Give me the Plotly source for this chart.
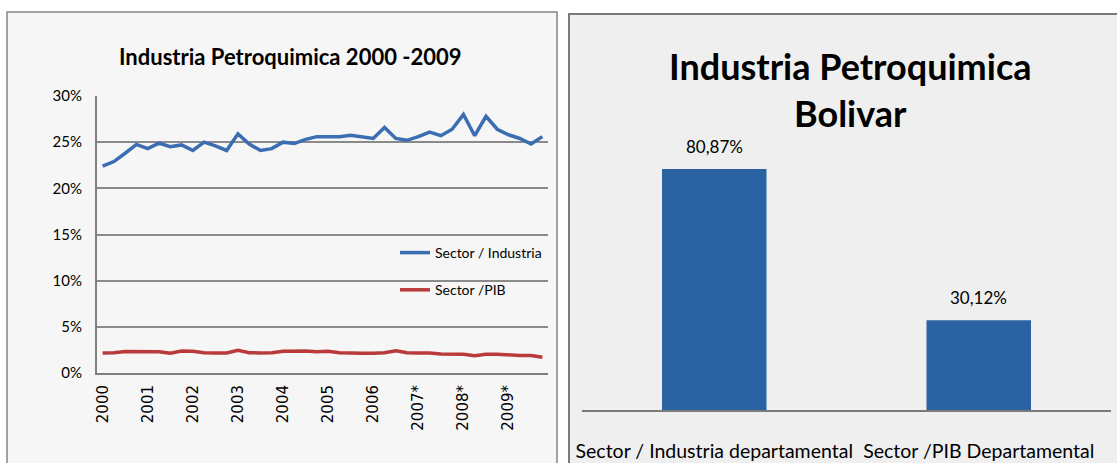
import plotly.graph_objects as go

# ---- data ----
quarters = list(range(40))
year_labels = ["2000", "2001", "2002", "2003", "2004", "2005", "2006", "2007*", "2008*", "2009*"]

sector_industria = [
    22.4, 22.9, 23.8, 24.75, 24.3, 24.9, 24.5, 24.7, 24.1, 25.0,
    24.6, 24.1, 25.9, 24.8, 24.1, 24.3, 25.0, 24.85, 25.3, 25.6,
    25.6, 25.6, 25.75, 25.6, 25.4, 26.6, 25.4, 25.2, 25.6, 26.1,
    25.7, 26.4, 28.0, 25.7, 27.8, 26.4, 25.8, 25.4, 24.8, 25.6,
]
sector_pib = [
    2.17, 2.2, 2.33, 2.35, 2.35, 2.3, 2.13, 2.38, 2.35, 2.2,
    2.17, 2.17, 2.45, 2.2, 2.17, 2.2, 2.35, 2.38, 2.38, 2.3,
    2.35, 2.2, 2.13, 2.13, 2.13, 2.2, 2.4, 2.2, 2.17, 2.17,
    2.05, 2.03, 2.03, 1.88, 2.03, 2.03, 1.92, 1.9, 1.9, 1.7,
]

bolivar_cats = ["Sector / Industria departamental", "Sector /PIB Departamental"]
bolivar_vals = [80.87, 30.12]

W, H = 1117, 463
FONT = "Lato"

def px_x(p):
    return p / W

def px_y(p):
    return 1 - p / H

fig = go.Figure()

# left: line chart
fig.add_trace(go.Scatter(
    x=quarters, y=sector_industria, mode="lines", name="Sector / Industria",
    line=dict(color="#3b6db3", width=3.5), legendgroup="a",
    xaxis="x", yaxis="y"
))
fig.add_trace(go.Scatter(
    x=quarters, y=sector_pib, mode="lines", name="Sector /PIB",
    line=dict(color="#b93a3a", width=3.5), legendgroup="b",
    xaxis="x", yaxis="y"
))

# right: bar chart
fig.add_trace(go.Bar(
    x=bolivar_cats, y=bolivar_vals, marker=dict(color="#2a62a4", line=dict(width=0)),
    width=0.395, showlegend=False, xaxis="x2", yaxis="y2"
))

# panel backgrounds
fig.add_shape(type="rect", xref="paper", yref="paper",
              x0=px_x(7), x1=px_x(557), y0=px_y(470), y1=px_y(12),
              fillcolor="#f6f6f6", line=dict(color="#858585", width=1.5), layer="below")
fig.add_shape(type="rect", xref="paper", yref="paper",
              x0=px_x(569), x1=px_x(1125), y0=px_y(470), y1=px_y(14),
              fillcolor="#efefef", line=dict(color="#7a7a7a", width=2), layer="below")

annotations = [
    dict(text="<b>Industria Petroquimica 2000 -2009</b>", xref="paper", yref="paper",
         x=px_x(290), y=px_y(57), xanchor="center", yanchor="middle", showarrow=False,
         font=dict(family=FONT, size=22, color="#000000")),
    dict(text="<b>Industria Petroquimica<br>Bolivar</b>", xref="paper", yref="paper",
         x=px_x(850), y=px_y(89), xanchor="center", yanchor="middle", showarrow=False,
         font=dict(family=FONT, size=36, color="#000000")),
]
for c, v in zip(bolivar_cats, bolivar_vals):
    annotations.append(dict(
        text=f"{v:.2f}%".replace(".", ","), x=c, y=v, xref="x2", yref="y2",
        xanchor="center", yanchor="bottom", yshift=10, showarrow=False,
        font=dict(family=FONT, size=17, color="#000000")))

fig.update_layout(
    width=W, height=H,
    margin=dict(l=0, r=0, t=0, b=0),
    paper_bgcolor="white",
    plot_bgcolor="rgba(0,0,0,0)",
    showlegend=True,
    legend=dict(x=px_x(395), y=px_y(237), xanchor="left", yanchor="top",
                bgcolor="rgba(0,0,0,0)", font=dict(family=FONT, size=14, color="#000000"),
                tracegroupgap=16, itemwidth=30),
    annotations=annotations,
    xaxis=dict(
        domain=[px_x(97), px_x(548)], range=[-0.5, 39.5],
        tickmode="array", tickvals=quarters[::4], ticktext=year_labels,
        tickangle=-90, tickfont=dict(family="DejaVu Sans", size=15, color="#000000"),
        showgrid=False, zeroline=False, showline=True, linecolor="#808080", linewidth=2,
        ticks="", ticklabelstandoff=4, anchor="y", automargin=False,
    ),
    yaxis=dict(
        domain=[px_y(373), px_y(96)], range=[0, 30], dtick=5, ticksuffix="%",
        tickfont=dict(family=FONT, size=15, color="#000000"),
        showgrid=True, gridcolor="#8a8a8a", gridwidth=1.5, zeroline=False,
        showline=True, linecolor="#808080", linewidth=2, ticks="", ticklabelstandoff=10,
        anchor="x", automargin=False,
    ),
    xaxis2=dict(
        domain=[px_x(582), px_x(1111)], showgrid=False, zeroline=False,
        showline=True, linecolor="#7a7a7a", linewidth=2, ticks="",
        tickfont=dict(family=FONT, size=19.5, color="#000000"), ticklabelstandoff=23,
        anchor="y2", automargin=False,
    ),
    yaxis2=dict(
        domain=[px_y(410), px_y(130)], range=[0, 80.87 * 280 / 241],
        visible=False, anchor="x2", automargin=False,
    ),
)

# drop the page's default body margin so the figure sits at the window's corner
fig.write_html("out.html", config={"displayModeBar": False},
               post_script="document.body.style.margin='0';")
